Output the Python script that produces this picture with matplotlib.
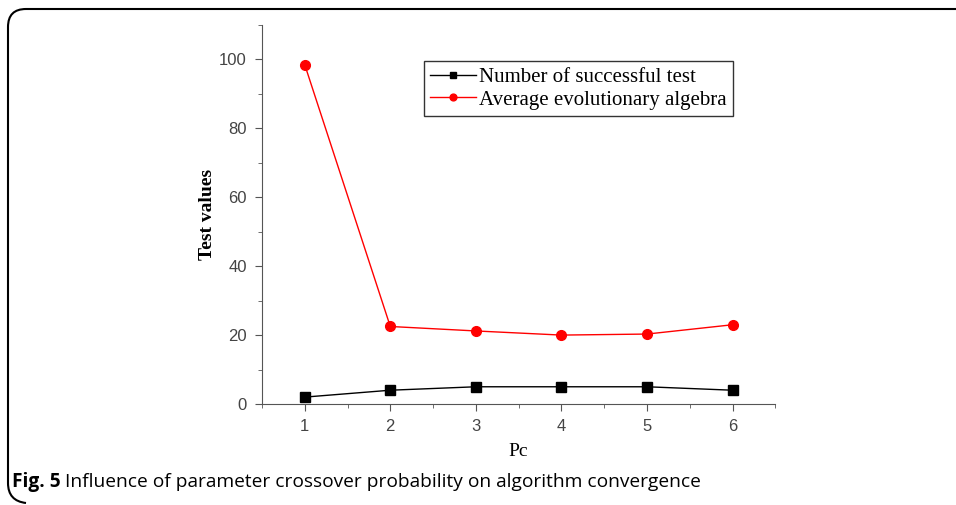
import matplotlib
matplotlib.use("Agg")
from matplotlib import pyplot as plt
from matplotlib.path import Path
from matplotlib.patches import PathPatch
from matplotlib.ticker import MultipleLocator

# crossover probability index and the two measured series
pc = [1, 2, 3, 4, 5, 6]
successful_tests = [2, 4, 5, 5, 5, 4]
avg_generations = [98.5, 22.5, 21.2, 20.0, 20.3, 23.0]

fig = plt.figure(figsize=(9.56, 5.05), dpi=100)
ax = fig.add_axes([0.274, 0.2, 0.537, 0.7505])

ax.plot(pc, successful_tests, color="black", marker="s", markersize=7,
        linewidth=1, label="Number of successful test")
ax.plot(pc, avg_generations, color="red", marker="o", markersize=7,
        linewidth=1, label="Average evolutionary algebra")

ax.set_xlim(0.5, 6.5)
ax.set_ylim(0, 110)
ax.xaxis.set_major_locator(MultipleLocator(1))
ax.xaxis.set_minor_locator(MultipleLocator(0.5))
ax.yaxis.set_minor_locator(MultipleLocator(10))
ax.set_yticks([0, 20, 40, 60, 80, 100])
ax.spines["top"].set_visible(False)
ax.spines["right"].set_visible(False)
for s in ("left", "bottom"):
    ax.spines[s].set_color("#555555")
ax.tick_params(which="major", length=5, color="#555555", labelsize=12,
               labelcolor="#444444", pad=6)
ax.tick_params(which="minor", length=3, color="#555555")
for lbl in ax.get_xticklabels() + ax.get_yticklabels():
    lbl.set_family("Liberation Sans")

ax.set_xlabel("Pc", family="Liberation Serif", fontsize=14, labelpad=6)
ax.set_ylabel("Test values", family="Liberation Serif", fontsize=14,
              fontweight="bold", labelpad=2)

leg = ax.legend(loc="upper left", bbox_to_anchor=(0.316, 0.905),
                prop={"family": "Liberation Serif", "size": 15},
                frameon=True, fancybox=False, edgecolor="black",
                handlelength=2.2, handletextpad=0.15, borderpad=0.3,
                labelspacing=0.15, borderaxespad=0, markerscale=0.7)
leg.get_frame().set_linewidth(1)

# caption under the plot
fig.canvas.draw()
tag = fig.text(0.0125, 0.035, "Fig. 5", family="Open Sans", fontweight="bold",
               fontsize=13.8)
bb = tag.get_window_extent(fig.canvas.get_renderer())
fig.text(bb.x1 / 956 + 0.005, 0.035,
         "Influence of parameter crossover probability on algorithm convergence",
         family="Open Sans", fontsize=13.8)

# rounded frame: top edge and left edge only
W, H = 956, 505
r = 18
pts = [(W, H - 9), (8 + r, H - 9), (8, H - 9), (8, H - 9 - r),
       (8, 4 + r), (8, 4), (8 + r, 2)]
codes = [Path.MOVETO, Path.LINETO, Path.CURVE3, Path.CURVE3,
         Path.LINETO, Path.CURVE3, Path.CURVE3]
frame = Path([(x / W, y / H) for x, y in pts], codes)
fig.add_artist(PathPatch(frame, transform=fig.transFigure, fill=False,
                         edgecolor="black", linewidth=1.5))

plt.savefig("out.png", dpi=100)
